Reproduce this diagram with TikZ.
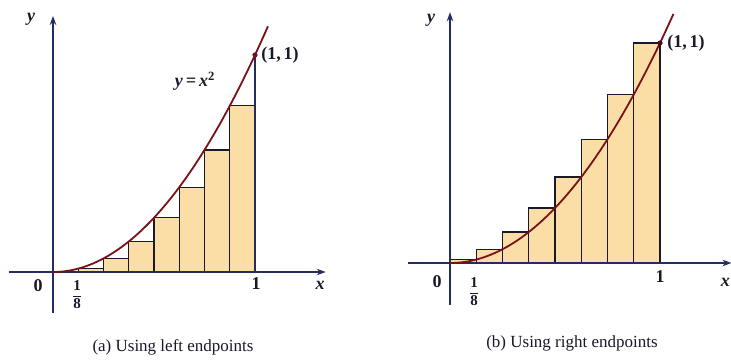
\documentclass[tikz,border=0pt]{standalone}
\usepackage{fontspec}
\setmainfont{Liberation Serif}
\usetikzlibrary{arrows.meta}
\definecolor{axisblue}{RGB}{35,45,95}
\definecolor{curvered}{RGB}{120,18,22}
\definecolor{barfill}{RGB}{250,222,165}
\definecolor{inkc}{RGB}{25,25,40}
\tikzset{
  axis/.style={draw=axisblue, line width=1.4pt, -{Stealth[length=9pt,width=6.5pt]}},
  bar/.style={draw=inkc, line width=1.2pt, fill=barfill},
  curve/.style={draw=curvered, line width=1.8pt},
  lbl/.style={font=\bfseries\fontsize{18}{20}\selectfont, text=inkc, inner sep=0pt},
  fraclbl/.style={font=\bfseries\fontsize{15}{15}\selectfont, text=inkc, inner sep=0pt, align=center},
  captxt/.style={font=\fontsize{17}{19}\selectfont, text=inkc, inner sep=0pt},
}
\newcommand{\eighth}{1\\[-9pt]\rule{8pt}{1pt}\\[-3pt]8}
\begin{document}
\begin{tikzpicture}[x=1pt,y=1pt]
\useasboundingbox (0,0) rectangle (731,362);
\fill[white] (0,0) rectangle (731,362);
% ---------- left panel ----------
\begin{scope}[shift={(53,90)}, x=202pt, y=217pt]
  \foreach \i in {0,...,7} {
    \pgfmathsetmacro{\xa}{\i/8}
    \pgfmathsetmacro{\xb}{(\i+1)/8}
    \pgfmathsetmacro{\h}{(\i/8)^2}
    \path[bar] (\xa,0) rectangle (\xb,\h);
  }
  \coordinate (La) at (-0.22,0);
  \coordinate (Lb) at (1.35,0);
  \coordinate (Lc) at (0,-0.19);
  \coordinate (Ld) at (0,1.18);
  \coordinate (Lone) at (1,0);
  \coordinate (Lpt) at (1,1);
  \draw[axisblue, line width=1.4pt] (Lone) -- (Lpt);
  \draw[axis] (La) -- (Lb);
  \draw[axis] (Lc) -- (Ld);
  \draw[curve] plot[domain=0:1.065, samples=60, smooth] (\x,{\x*\x});
  \fill[curvered] (Lpt) circle (2.6pt);
\end{scope}
\node[lbl] (ly) at (31,343) {\itshape y};
\node[lbl] (lpt) at (280,307) {(1,\,1)};
\node[lbl] (leq) at (195,281) {\itshape y\,=\,x$^{\mathbf 2}$};
\node[lbl] (l0) at (38,76) {0};
\node[fraclbl] (l18) at (77,67) {\eighth};
\node[lbl] (l1) at (256,78) {1};
\node[lbl] (lx) at (320,77) {\itshape x};
\node[captxt] (lcap) at (173,15) {(a) Using left endpoints};
% ---------- right panel ----------
\begin{scope}[shift={(450,99)}, x=210pt, y=220pt]
  \foreach \i in {1,...,8} {
    \pgfmathsetmacro{\xa}{(\i-1)/8}
    \pgfmathsetmacro{\xb}{\i/8}
    \pgfmathsetmacro{\h}{(\i/8)^2}
    \path[bar] (\xa,0) rectangle (\xb,\h);
  }
  \coordinate (Ra) at (-0.2,0);
  \coordinate (Rb) at (1.34,0);
  \coordinate (Rc) at (0,-0.19);
  \coordinate (Rd) at (0,1.14);
  \coordinate (Rpt) at (1,1);
  \draw[axis] (Ra) -- (Rb);
  \draw[axis] (Rc) -- (Rd);
  \draw[curve] plot[domain=0:1.065, samples=60, smooth] (\x,{\x*\x});
  \fill[curvered!70!black] (Rpt) circle (2.6pt);
\end{scope}
\node[lbl] (ry) at (431,342) {\itshape y};
\node[lbl] (rpt) at (686,319) {(1,\,1)};
\node[lbl] (r0) at (437,80) {0};
\node[fraclbl] (r18) at (474,70) {\eighth};
\node[lbl] (r1) at (660,85) {1};
\node[lbl, anchor=east] (rx) at (730,80) {\itshape x};
\node[captxt] (rcap) at (572,19) {(b) Using right endpoints};
\end{tikzpicture}
\end{document}
